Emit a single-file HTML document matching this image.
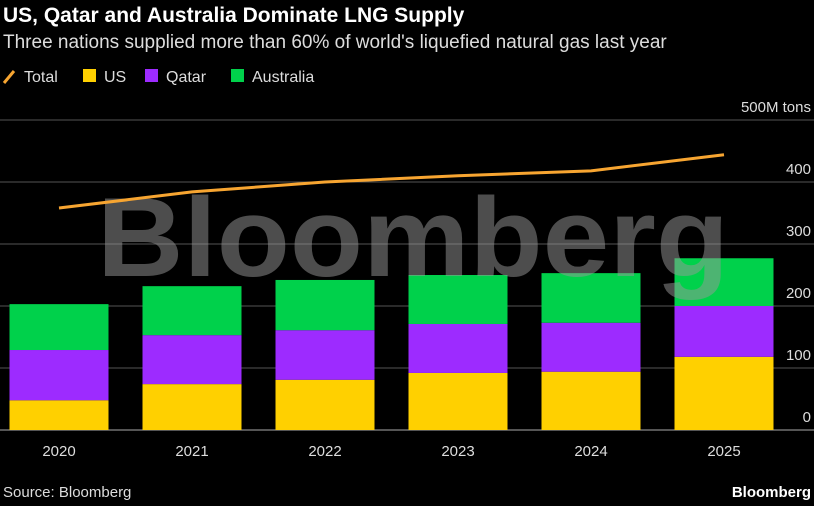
<!DOCTYPE html>
<html><head><meta charset="utf-8"><style>
body{margin:0;background:#000;width:814px;height:501px;overflow:hidden;font-family:"Liberation Sans",sans-serif;color:#fff}
</style></head><body>
<svg width="814" height="501" id="chart">
<text x="3" y="22" font-size="21" font-weight="bold" fill="#fff">US, Qatar and Australia Dominate LNG Supply</text>
<text x="3" y="48" font-size="19" fill="#ddd">Three nations supplied more than 60% of world's liquefied natural gas last year</text>
<g font-size="16" fill="#ddd">
<line x1="4" y1="83" x2="14" y2="71" stroke="#f7a531" stroke-width="3"/>
<text x="24" y="82">Total</text>
<rect x="83" y="69" width="13" height="13" fill="#ffd000"/>
<text x="104" y="82">US</text>
<rect x="145" y="69" width="13" height="13" fill="#9d2bff"/>
<text x="166" y="82">Qatar</text>
<rect x="231" y="69" width="13" height="13" fill="#00d14b"/>
<text x="252" y="82">Australia</text>
</g>
<g id="grid"></g>
<g id="bars"></g>
<text x="97" y="276" font-size="112" font-weight="bold" fill="#999" opacity="0.5" textLength="632" lengthAdjust="spacingAndGlyphs">Bloomberg</text>
<g id="line"></g>
<text x="3" y="497" font-size="15" fill="#ddd">Source: Bloomberg</text>
<text x="811" y="497" font-size="15" font-weight="bold" fill="#fff" text-anchor="end">Bloomberg</text>
</svg>
<script>
const categories=["2020","2021","2022","2023","2024","2025"];
const usValues=[48,74,81,92,94,118];
const qatarValues=[81,79,80,79,79,82];
const australiaValues=[74,79,81,79,80,77];
const totalValues=[358,384,400,410,418,444];
const yTicks=[0,100,200,300,400,500];
const ns="http://www.w3.org/2000/svg";
const y0=430,pxPer=0.62;
function yScale(v){return y0-v*pxPer;}
function xScale(i){return 59+i*133;}
const bw=99;
const grid=document.getElementById('grid');
yTicks.forEach(t=>{
 const l=document.createElementNS(ns,'line');
 l.setAttribute('x1',0);l.setAttribute('x2',814);l.setAttribute('y1',yScale(t));l.setAttribute('y2',yScale(t));
 l.setAttribute('stroke',t===0?'#aaa':'#555');l.setAttribute('stroke-width',1);
 
 
 grid.appendChild(l);
 const tx=document.createElementNS(ns,'text');
 tx.setAttribute('x',811);tx.setAttribute('y',yScale(t)-8);tx.setAttribute('text-anchor','end');
 tx.setAttribute('font-size','15');tx.setAttribute('fill','#ddd');
 tx.textContent=t===500?'500M tons':String(t);
 
 
 grid.appendChild(tx);
});
const bars=document.getElementById('bars');
function rect(x,v0,v1,c,name){
 const r=document.createElementNS(ns,'rect');
 r.setAttribute('x',x);r.setAttribute('width',bw);
 r.setAttribute('y',yScale(v1));r.setAttribute('height',yScale(v0)-yScale(v1));
 r.setAttribute('fill',c);
 
 
 bars.appendChild(r);
}
categories.forEach((c,i)=>{
 const x=xScale(i)-bw/2;
 const a=usValues[i],b=a+qatarValues[i],d=b+australiaValues[i];
 rect(x,0,a,'#ffd000','bar-us-'+c);
 rect(x,a,b,'#9d2bff','bar-qatar-'+c);
 rect(x,b,d,'#00d14b','bar-australia-'+c);
 const t=document.createElementNS(ns,'text');
 t.setAttribute('x',xScale(i));t.setAttribute('y',456);t.setAttribute('text-anchor','middle');
 t.setAttribute('font-size','15');t.setAttribute('fill','#ddd');t.textContent=c;
 
 
 bars.appendChild(t);
});
const p=document.createElementNS(ns,'polyline');
p.setAttribute('points',totalValues.map((v,i)=>xScale(i)+','+yScale(v)).join(' '));
p.setAttribute('fill','none');p.setAttribute('stroke','#f7a531');p.setAttribute('stroke-width',3);


document.getElementById('line').appendChild(p);
</script>
</body></html>
